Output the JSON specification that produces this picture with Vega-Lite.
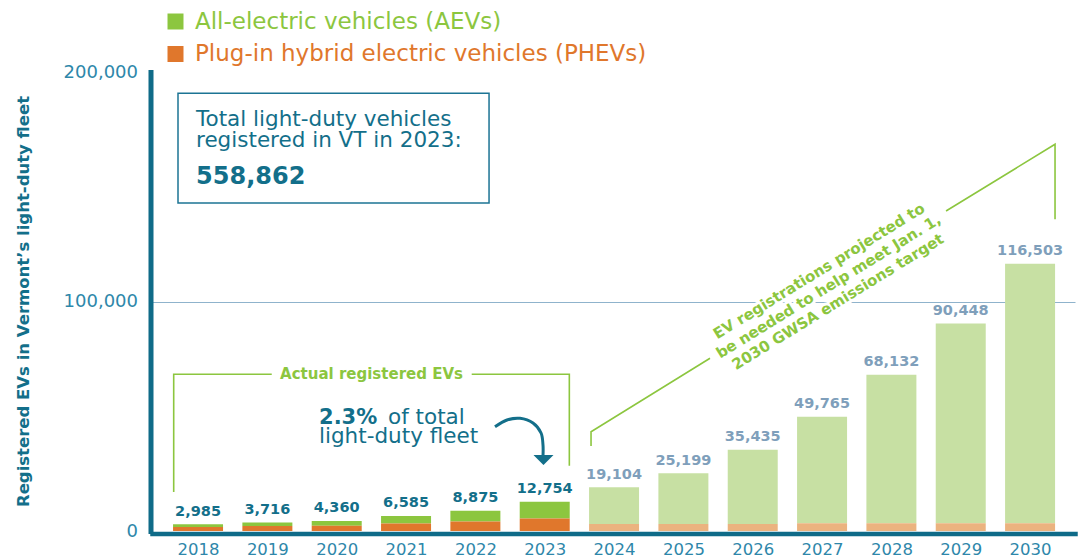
{
  "$schema": "https://vega.github.io/schema/vega-lite/v6.json",
  "autosize": {"type": "none"},
  "width": 923,
  "height": 459,
  "padding": {"left": 152, "top": 72, "right": 9, "bottom": 27},
  "background": "white",
  "config": {
    "view": {"stroke": null},
    "font": "DejaVu Sans"
  },
  "encoding": {
    "x": {
      "field": "year", "type": "quantitative",
      "scale": {"domain": [2017.336, 2030.648], "nice": false, "zero": false, "padding": 0},
      "axis": {
        "title": null, "values": [2018, 2019, 2020, 2021, 2022, 2023, 2024, 2025, 2026, 2027, 2028, 2029, 2030],
        "labelExpr": "format(datum.value, 'd')", "grid": false, "ticks": false, "tickSize": 0,
        "domainColor": "#0f6b88", "domainWidth": 4.5, "domainCap": "square", "offset": 2.5,
        "labelFontSize": 16.5, "labelColor": "#2e87aa", "labelPadding": 8, "labelFlush": false
      }
    },
    "y": {
      "field": "value", "type": "quantitative",
      "scale": {"domain": [0, 200000], "nice": false},
      "axis": {
        "title": "Registered EVs in Vermont’s light-duty fleet",
        "titleFontSize": 16.5, "titleFontWeight": "bold", "titleColor": "#136f8a",
        "titleAngle": -90, "titleX": -127, "titleY": 229, "titleAlign": "center", "titleBaseline": "middle",
        "values": [0, 100000, 200000], "labelExpr": "format(datum.value, ',')",
        "grid": true, "gridColor": {"condition": {"test": "datum.value === 100000", "value": "#8fb3cc"}, "value": "rgba(0,0,0,0)"},
        "gridWidth": 1.2, "ticks": false, "tickSize": 0,
        "domainColor": "#0f6b88", "domainWidth": 5, "domainCap": "square", "offset": 1.5,
        "labelFontSize": 18, "labelColor": "#2e87aa", "labelPadding": 13, "labelOffset": 0
      }
    }
  },
  "layer": [
    {
      "data": {"values": [
        {"year": 2018, "series": "AEV", "value": 1285},
        {"year": 2018, "series": "PHEV", "value": 1700},
        {"year": 2019, "series": "AEV", "value": 1581},
        {"year": 2019, "series": "PHEV", "value": 2135},
        {"year": 2020, "series": "AEV", "value": 2110},
        {"year": 2020, "series": "PHEV", "value": 2250},
        {"year": 2021, "series": "AEV", "value": 3355},
        {"year": 2021, "series": "PHEV", "value": 3230},
        {"year": 2022, "series": "AEV", "value": 4715},
        {"year": 2022, "series": "PHEV", "value": 4160},
        {"year": 2023, "series": "AEV", "value": 7304},
        {"year": 2023, "series": "PHEV", "value": 5450},
        {"year": 2024, "series": "AEV projected", "value": 16054},
        {"year": 2024, "series": "PHEV projected", "value": 3050},
        {"year": 2025, "series": "AEV projected", "value": 22149},
        {"year": 2025, "series": "PHEV projected", "value": 3050},
        {"year": 2026, "series": "AEV projected", "value": 32385},
        {"year": 2026, "series": "PHEV projected", "value": 3050},
        {"year": 2027, "series": "AEV projected", "value": 46415},
        {"year": 2027, "series": "PHEV projected", "value": 3350},
        {"year": 2028, "series": "AEV projected", "value": 64782},
        {"year": 2028, "series": "PHEV projected", "value": 3350},
        {"year": 2029, "series": "AEV projected", "value": 87098},
        {"year": 2029, "series": "PHEV projected", "value": 3350},
        {"year": 2030, "series": "AEV projected", "value": 113153},
        {"year": 2030, "series": "PHEV projected", "value": 3350}
      ]},
      "mark": {"type": "bar", "width": 50},
      "encoding": {
        "order": {"field": "series", "sort": "descending"},
        "color": {
          "field": "series", "type": "nominal",
          "scale": {"domain": ["AEV", "PHEV", "AEV projected", "PHEV projected"], "range": ["#8cc63f", "#e0772c", "#c7e0a3", "#ebb37f"]},
          "legend": {
            "orient": "none", "legendX": 12, "legendY": -62, "direction": "vertical", "title": null,
            "values": ["AEV", "PHEV"], "padding": 0,
            "symbolType": "square", "symbolSize": 256, "symbolStrokeWidth": 0, "symbolOpacity": 1,
            "labelFontSize": 23, "labelOffset": 8, "labelLimit": 0, "rowPadding": 8.5,
            "labelColor": {"expr": "datum.value == 'AEV' ? '#8cc63f' : '#e0772c'"},
            "labelExpr": "datum.value == 'AEV' ? 'All-electric vehicles (AEVs)' : 'Plug-in hybrid electric vehicles (PHEVs)'"
          }
        }
      }
    },
    {
      "data": {"values": [
        {"year": 2018, "value": 2985, "status": "Actual"},
        {"year": 2019, "value": 3716, "status": "Actual"},
        {"year": 2020, "value": 4360, "status": "Actual"},
        {"year": 2021, "value": 6585, "status": "Actual"},
        {"year": 2022, "value": 8875, "status": "Actual"},
        {"year": 2023, "value": 12754, "status": "Actual"},
        {"year": 2024, "value": 19104, "status": "Projected"},
        {"year": 2025, "value": 25199, "status": "Projected"},
        {"year": 2026, "value": 35435, "status": "Projected"},
        {"year": 2027, "value": 49765, "status": "Projected"},
        {"year": 2028, "value": 68132, "status": "Projected"},
        {"year": 2029, "value": 90448, "status": "Projected"},
        {"year": 2030, "value": 116503, "status": "Projected"}
      ]},
      "mark": {"type": "text", "fontSize": 14.5, "fontWeight": "bold", "baseline": "alphabetic", "align": "center", "dy": -8.5},
      "encoding": {
        "text": {"field": "value", "type": "quantitative", "format": ","},
        "color": {"condition": {"test": "datum.status === 'Actual'", "value": "#136f8a"}, "value": "#7f9fbb"}
      }
    },
    {
      "data": {"values": [
        {"id": "actualL", "i": 0, "year": 2017.649, "value": 16993},
        {"id": "actualL", "i": 1, "year": 2017.649, "value": 68279},
        {"id": "actualL", "i": 2, "year": 2019.063, "value": 68279},
        {"id": "actualR", "i": 0, "year": 2021.947, "value": 68279},
        {"id": "actualR", "i": 1, "year": 2023.355, "value": 68279},
        {"id": "actualR", "i": 2, "year": 2023.355, "value": 28453},
        {"id": "projL", "i": 0, "year": 2023.668, "value": 37037},
        {"id": "projL", "i": 1, "year": 2023.668, "value": 43268},
        {"id": "projL", "i": 2, "year": 2025.384, "value": 75251},
        {"id": "projR", "i": 0, "year": 2028.788, "value": 139434},
        {"id": "projR", "i": 1, "year": 2030.360, "value": 168497},
        {"id": "projR", "i": 2, "year": 2030.360, "value": 135817}
      ]},
      "mark": {"type": "line", "color": "#8cc63f", "strokeWidth": 1.6},
      "encoding": {
        "detail": {"field": "id", "type": "nominal"},
        "order": {"field": "i", "type": "quantitative"}
      }
    },
    {
      "data": {"values": [{"year": 2020.502, "value": 68279, "text": "Actual registered EVs"}]},
      "mark": {"type": "text", "fontSize": 15, "fontWeight": "bold", "color": "#8cc63f", "align": "center", "baseline": "middle"},
      "encoding": {"text": {"field": "text", "type": "nominal"}}
    },
    {
      "data": {"values": [{"year": 2026.956, "value": 113290, "text": "EV registrations projected to\nbe needed to help meet Jan. 1,\n2030 GWSA emissions target"}]},
      "mark": {"type": "text", "fontSize": 15, "fontWeight": "bold", "color": "white", "stroke": "white", "strokeWidth": 6, "strokeJoin": "round", "align": "center", "baseline": "middle", "angle": 328.4, "lineBreak": "\n", "lineHeight": 18},
      "encoding": {"text": {"field": "text", "type": "nominal"}}
    },
    {
      "data": {"values": [{"year": 2026.956, "value": 113290, "text": "EV registrations projected to\nbe needed to help meet Jan. 1,\n2030 GWSA emissions target"}]},
      "mark": {"type": "text", "fontSize": 15, "fontWeight": "bold", "color": "#8cc63f", "align": "center", "baseline": "middle", "angle": 328.4, "lineBreak": "\n", "lineHeight": 18},
      "encoding": {"text": {"field": "text", "type": "nominal"}}
    },
    {
      "data": {"values": [{"year": 2017.711, "year2": 2022.197, "value": 190719, "value2": 142919}]},
      "mark": {"type": "rect", "fill": "white", "stroke": "#1c7494", "strokeWidth": 1.5},
      "encoding": {
        "x2": {"field": "year2"},
        "y2": {"field": "value2"}
      }
    },
    {
      "data": {"values": [
        {"year": 2017.971, "value": 176471, "text": "Total light-duty vehicles"},
        {"year": 2017.971, "value": 167320, "text": "registered in VT in 2023:"}
      ]},
      "mark": {"type": "text", "fontSize": 21.5, "color": "#136f8a", "align": "left", "baseline": "alphabetic"},
      "encoding": {"text": {"field": "text", "type": "nominal"}}
    },
    {
      "data": {"values": [{"year": 2017.971, "value": 151068, "text": "558,862"}]},
      "mark": {"type": "text", "fontSize": 24, "fontWeight": "bold", "color": "#136f8a", "align": "left", "baseline": "alphabetic"},
      "encoding": {"text": {"field": "text", "type": "nominal"}}
    },
    {
      "data": {"values": [{"year": 2019.745, "value": 46623, "text": "2.3%"}]},
      "mark": {"type": "text", "fontSize": 21, "fontWeight": "bold", "color": "#136f8a", "align": "left", "baseline": "alphabetic"},
      "encoding": {"text": {"field": "text", "type": "nominal"}}
    },
    {
      "data": {"values": [
        {"year": 2020.74, "value": 46623, "text": "of total"},
        {"year": 2019.745, "value": 38213, "text": "light-duty fleet"}
      ]},
      "mark": {"type": "text", "fontSize": 21.5, "color": "#136f8a", "align": "left", "baseline": "alphabetic"},
      "encoding": {"text": {"field": "text", "type": "nominal"}}
    },
    {
      "data": {"values": [
        {"i": 0, "year": 2022.283, "value": 45447},
        {"i": 1, "year": 2022.456, "value": 48366},
        {"i": 2, "year": 2022.644, "value": 49107},
        {"i": 3, "year": 2022.831, "value": 47059},
        {"i": 4, "year": 2022.947, "value": 42702},
        {"i": 5, "year": 2022.975, "value": 37473},
        {"i": 6, "year": 2022.975, "value": 32680}
      ]},
      "mark": {"type": "line", "color": "#136f8a", "strokeWidth": 3, "interpolate": "cardinal"},
      "encoding": {"order": {"field": "i", "type": "quantitative"}}
    },
    {
      "data": {"values": [{"year": 2022.982, "value": 30937}]},
      "mark": {"type": "point", "shape": "M-1,-0.5L1,-0.5L0,0.5Z", "size": 400, "filled": true, "color": "#136f8a", "opacity": 1},
      "encoding": {}
    }
  ]
}
